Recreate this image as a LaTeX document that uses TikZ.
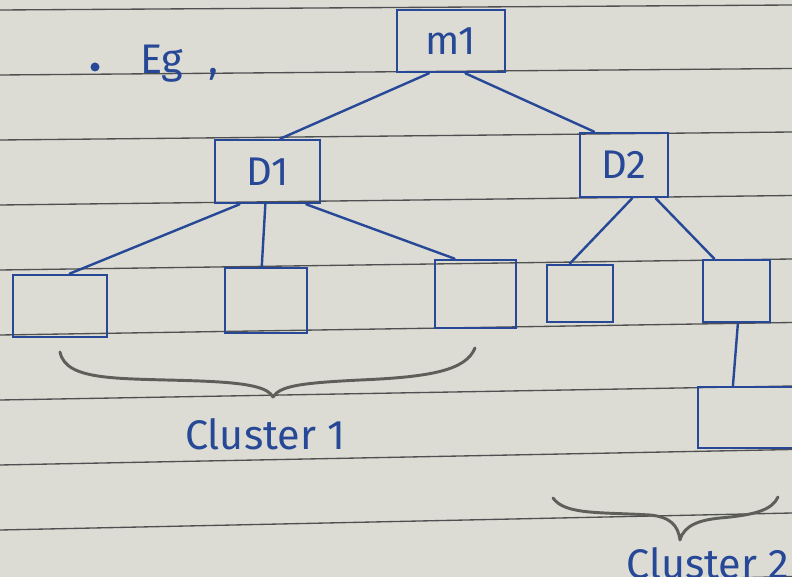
\documentclass[tikz,border=0pt]{standalone}
\usepackage{fontspec}
\setmainfont{Fira Sans}
\usetikzlibrary{calc}
\definecolor{paper}{RGB}{220,220,213}
\definecolor{ink}{RGB}{38,72,150}
\definecolor{rule}{RGB}{80,80,80}
\definecolor{pencil}{RGB}{95,95,90}
\tikzset{
  box/.style 2 args={draw=ink, line width=2pt, inner sep=0pt,
    minimum width=#1*0.75pt, minimum height=#2*0.75pt,
    text=ink, font=\fontsize{30}{32}\selectfont},
  link/.style={draw=ink, line width=1.8pt, line cap=round},
  ruled/.style={draw=rule, line width=1pt},
  brace/.style={draw=pencil, line width=2.2pt, line cap=round, line join=round},
  hand/.style={text=ink, font=\fontsize{31}{33}\selectfont, inner sep=0pt}
}
\begin{document}
\begin{tikzpicture}[x=0.75pt,y=-0.75pt]
\useasboundingbox (0,0) rectangle (792,577);
\clip (0,0) rectangle (792,577);
\fill[paper] (0,0) rectangle (792,577);
% ruled lines
\foreach \i in {0,...,9}
  \draw[ruled] (0,{10+65*\i}) -- (792,{5+63.5*\i});

% boxes
\node[box={108}{62}] (m1) at (451,41) {m1};
\node[box={105}{63}] (d1) at (267.5,171.5) {D1};
\node[box={88}{64}] (d2) at (624,165) {D2};
\node[box={94}{62}] (l1) at (60,306) {};
\node[box={82}{65}] (l2) at (266,300.5) {};
\node[box={81}{68}] (l3) at (475.5,294) {};
\node[box={66}{57}] (l4) at (580,293.5) {};
\node[box={67}{62}] (l5) at (736.5,291) {};
\node[box={104}{61}] (l6) at (750,417.5) {};

% connectors
\draw[link] ($(m1.south west)!0.3!(m1.south east)$) -- ($(d1.north west)!0.62!(d1.north east)$);
\draw[link] ($(m1.south west)!0.63!(m1.south east)$) -- ($(d2.north west)!0.17!(d2.north east)$);
\draw[link] ($(d1.south west)!0.24!(d1.south east)$) -- ($(l1.north west)!0.6!(l1.north east)$);
\draw[link] ($(d1.south west)!0.48!(d1.south east)$) -- ($(l2.north west)!0.45!(l2.north east)$);
\draw[link] ($(d1.south west)!0.86!(d1.south east)$) -- ($(l3.north west)!0.25!(l3.north east)$);
\draw[link] ($(d2.south west)!0.59!(d2.south east)$) -- ($(l4.north west)!0.35!(l4.north east)$);
\draw[link] ($(d2.south west)!0.85!(d2.south east)$) -- ($(l5.north west)!0.18!(l5.north east)$);
\draw[link] ($(l5.south west)!0.52!(l5.south east)$) -- ($(l6.north west)!0.34!(l6.north east)$);

% braces
\draw[brace] (60,352) .. controls (66,382) and (120,378) .. (200,381)
  .. controls (252,383) and (268,388) .. (273,397)
  .. controls (280,386) and (300,383) .. (360,380)
  .. controls (432,377) and (466,370) .. (475,348);
\draw[brace] (553,498) .. controls (565,515) and (600,512) .. (650,515)
  .. controls (670,517) and (678,525) .. (680,540)
  .. controls (684,525) and (700,520) .. (720,518)
  .. controls (755,515) and (772,510) .. (778,497);

% texts
\fill[ink] (95,67) circle [radius=4.5];
\node[hand] (eg) at (162,64) {Eg};
\node[hand] (comma) at (213,74) {,};
\node[hand] (c1) at (265,434) {Cluster 1};
\node[hand, anchor=west] (c2) at (626,563) {Cluster 2};
\end{tikzpicture}
\end{document}
